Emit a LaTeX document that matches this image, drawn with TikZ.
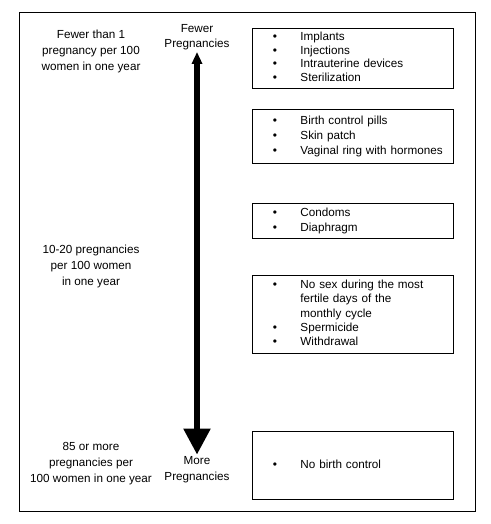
\documentclass[tikz,border=0pt]{standalone}
\usepackage{fontspec}
\setmainfont{Liberation Sans}
\usetikzlibrary{arrows.meta,positioning}
\tikzset{method/.style={rectangle,draw=black,line width=0.9pt,inner xsep=0pt,inner ysep=0pt,text width=201pt,align=left,font=\fontsize{11.7}{15}\selectfont}}
\tikzset{rate/.style={align=center,inner sep=2pt,font=\fontsize{11.7}{16}\selectfont}}
\newcommand{\dotmark}{{\fontsize{12}{12}\selectfont\textbullet}}
\newcommand{\methodlist}[1]{\begin{tabular}{@{\hspace{20.5pt}}p{27.5pt}@{}l@{}}#1\end{tabular}}

\begin{document}
\begin{tikzpicture}[x=1pt,y=-1pt]
  \useasboundingbox (0,0) rectangle (490,524);
  \draw[line width=0.9pt] (19,12) rectangle (475,511);
  % rates on the left
  \node[rate] (low) at (91,51) {Fewer than 1\\pregnancy per 100\\women in one year};
  \node[rate] (mid) at (91,266) {10-20 pregnancies\\per 100 women\\in one year};
  \node[rate] (high) at (91,464) {85 or more\\pregnancies per\\100 women in one year};
  % the scale
  \node[rate,font=\fontsize{11.7}{15}\selectfont] (fewer) at (197,37) {Fewer\\Pregnancies};
  \node[rate] (more) at (197,470) {More\\Pregnancies};
  \draw[line width=5.5pt,{Triangle[width=10pt,length=12pt]}-{Triangle[width=26pt,length=26pt]}] (fewer) -- (more);
  % methods
  \node[method,anchor=north west,minimum height=60pt,font=\fontsize{11.7}{13.5}\selectfont] (box1) at (252,28)
    {\methodlist{\dotmark & Implants\\ \dotmark & Injections\\ \dotmark & Intrauterine devices\\ \dotmark & Sterilization}};
  \node[method,below=20pt of box1.south west,anchor=north west,minimum height=54pt] (box2)
    {\methodlist{\dotmark & Birth control pills\\ \dotmark & Skin patch\\ \dotmark & Vaginal ring with hormones}};
  \node[method,below=39pt of box2.south west,anchor=north west,minimum height=35pt] (box3)
    {\methodlist{\dotmark & Condoms\\ \dotmark & Diaphragm}};
  \node[method,below=36pt of box3.south west,anchor=north west,minimum height=78pt,font=\fontsize{11.7}{14.3}\selectfont] (box4)
    {\methodlist{\dotmark & No sex during the most\\ & fertile days of the\\ & monthly cycle\\ \dotmark & Spermicide\\ \dotmark & Withdrawal}};
  \node[method,below=77pt of box4.south west,anchor=north west,minimum height=68pt] (box5)
    {\methodlist{\dotmark & No birth control}};
\end{tikzpicture}
\end{document}
